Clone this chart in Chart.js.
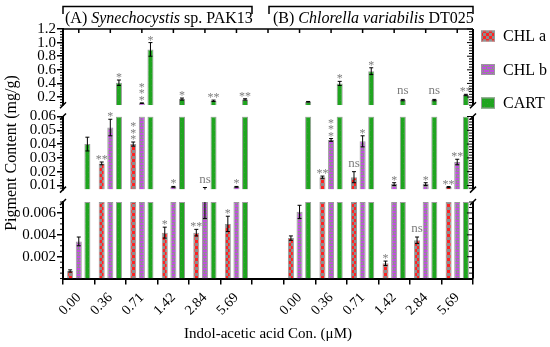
<!DOCTYPE html>
<html>
<head>
<meta charset="utf-8">
<script src="https://cdn.jsdelivr.net/npm/chart.js@4.4.0/dist/chart.umd.min.js"></script>
<style>
  html, body { margin: 0; padding: 0; background: #fff; }
  #chart { display: block; }
</style>
</head>
<body>
<canvas id="chart" width="550" height="347"></canvas>
<script>
// categories: two strains, 6 IAA doses each, empty slot between
const doses = ['0.00', '0.36', '0.71', '1.42', '2.84', '5.69'];
const categories = [...doses, '', ...doses];
const seriesNames = ['CHL a', 'CHL b', 'CART'];

const chlA    = [0.0007, 0.026, 0.040, 0.0042, 0.0042, 0.0050, null, 0.0037, 0.016, 0.016, 0.0014, 0.0035, 0.0088];
const chlAErr = [0.0001, 0.001, 0.0015, 0.0005, 0.0003, 0.0007, null, 0.0002, 0.0008, 0.004, 0.0002, 0.0003, 0.0004];
const chlASig = ['', '**', '***', '*', '**', '*', '', '', '**', 'ns', '*', 'ns', '**'];

const chlB    = [0.0034, 0.052, 0.11, 0.0090, 0.0070, 0.0090, null, 0.0061, 0.043, 0.042, 0.011, 0.011, 0.027];
const chlBErr = [0.0004, 0.006, 0.004, 0.0003, 0.0015, 0.0003, null, 0.0006, 0.001, 0.004, 0.001, 0.001, 0.002];
const chlBSig = ['', '*', '***', '*', 'ns', '*', '', '', '***', '*', '*', '*', '**'];

const cart    = [0.040, 0.41, 0.90, 0.17, 0.145, 0.165, null, 0.13, 0.40, 0.58, 0.155, 0.155, 0.23];
const cartErr = [0.005, 0.04, 0.10, 0.015, 0.01, 0.01, null, 0.005, 0.03, 0.05, 0.01, 0.01, 0.01];
const cartSig = ['', '*', '*', '*', '**', '**', '', '', '*', '*', 'ns', 'ns', '**'];

// broken y axis: top, middle, bottom segments
const panelIds = ['yTop', 'yMid', 'yBot'];
const panelMin = [0.08, 0.007, 0];
const panelMax = [1.2, 0.06, 0.007];
const panelTicks = [
  [0.2, 0.4, 0.6, 0.8, 1.0, 1.2],
  [0.01, 0.02, 0.03, 0.04, 0.05, 0.06],
  [0.002, 0.004, 0.006]
];
const tickDigits = [1, 2, 3];
const minorStep = [0.04, 0.002, 0.0005];

const FONT = '"Liberation Serif", "Times New Roman", serif';
const panelWeight = [76.2, 73.1, 76.6];
const gapWeight = [11.3, 12.4];

function makePattern(kind) {
  const c = document.createElement('canvas');
  const g = c.getContext('2d');
  c.width = 6; c.height = 6;
  if (kind === 0) {
    g.fillStyle = '#ff2222'; g.fillRect(0, 0, 6, 6);
    g.fillStyle = '#8c8c8c'; g.fillRect(0, 0, 3, 3); g.fillRect(3, 3, 3, 3);
  } else if (kind === 1) {
    g.fillStyle = '#c24fe0'; g.fillRect(0, 0, 6, 6);
    g.fillStyle = '#8e8e8e';
    g.fillRect(0, 0, 6, 1); g.fillRect(0, 3, 6, 1);
    g.fillRect(0, 0, 1, 3); g.fillRect(3, 3, 1, 3);
  } else {
    g.fillStyle = '#1fa51f'; g.fillRect(0, 0, 6, 6);
    g.fillStyle = '#3b9a3b'; g.fillRect(1, 1, 1, 1); g.fillRect(4, 4, 1, 1);
  }
  return g.createPattern(c, 'repeat');
}
const fills = [makePattern(0), makePattern(1), makePattern(2)];

const seriesVals = [chlA, chlB, cart];
const seriesErr = [chlAErr, chlBErr, cartErr];
const seriesSig = [chlASig, chlBSig, cartSig];

const datasets = [];
panelIds.forEach((id, p) => {
  seriesVals.forEach((vals, s) => {
    datasets.push({
      label: seriesNames[s],
      yAxisID: id,
      stack: 'st' + s,
      data: vals.map(v => (v == null || v <= panelMin[p]) ? null : [panelMin[p], Math.min(v, panelMax[p])]),
      backgroundColor: fills[s],
      borderColor: '#9a9a9a',
      borderWidth: 1,
      categoryPercentage: 0.82,
      barPercentage: 0.7
    });
  });
});

function panelScale(p, withTitle) {
  return {
    type: 'linear',
    position: 'left',
    stack: 'panels',
    stackWeight: panelWeight[p],
    stacked: false,
    min: panelMin[p],
    max: panelMax[p],
    afterBuildTicks(s) { s.ticks = panelTicks[p].map(v => ({ value: v })); },
    afterFit(s) { s.width = 63; },
    ticks: {
      autoSkip: false,
      color: '#000',
      padding: 1,
      font: { family: FONT, size: 15 },
      callback: v => Number(v).toFixed(tickDigits[p])
    },
    grid: { drawOnChartArea: false, tickLength: 6, color: '#000', lineWidth: 1.5 },
    border: { color: '#000', width: 2 },
    title: {
      display: withTitle,
      text: 'Pigment Content (mg/g)',
      color: '#000',
      font: { family: FONT, size: 16 },
      padding: { top: 2, bottom: 0 }
    }
  };
}

function gapScale(w) {
  return {
    type: 'linear', position: 'left', stack: 'panels', stackWeight: w,
    afterFit(s) { s.width = 63; },
    ticks: { display: false }, grid: { display: false }, border: { display: false }
  };
}

function valueX(chart, s, i) {
  for (let p = 0; p < 3; p++) {
    const el = chart.getDatasetMeta(p * 3 + s).data[i];
    if (el && isFinite(el.x)) return el.x;
  }
  return null;
}

function drawSig(ctx, x, y, txt) {
  ctx.save();
  ctx.fillStyle = '#7d7d7d';
  ctx.textAlign = 'center';
  ctx.textBaseline = 'alphabetic';
  if (txt === 'ns') {
    ctx.font = '13px ' + FONT;
    ctx.fillText('ns', x, y - 2);
  } else if (txt.length === 3) {
    ctx.font = '12px ' + FONT;
    for (let k = 0; k < 3; k++) ctx.fillText('*', x, y + 4 - k * 6.5);
  } else {
    ctx.font = '12px ' + FONT;
    ctx.fillText(txt, x, y + 4);
  }
  ctx.restore();
}

const decor = {
  id: 'decor',
  afterDatasetsDraw(chart) {
    const ctx = chart.ctx;
    ctx.save();
    ctx.strokeStyle = '#000';
    ctx.lineWidth = 1;
    seriesVals.forEach((vals, s) => {
      vals.forEach((v, i) => {
        if (v == null) return;
        const x = valueX(chart, s, i);
        const e = seriesErr[s][i] || 0;
        const lo = v - e, hi = v + e;
        panelIds.forEach((id, p) => {
          const sc = chart.scales[id];
          const a = Math.max(lo, panelMin[p]), b = Math.min(hi, panelMax[p]);
          if (a >= b) return;
          ctx.beginPath();
          ctx.moveTo(x, sc.getPixelForValue(a));
          ctx.lineTo(x, sc.getPixelForValue(b));
          if (hi > panelMin[p] && hi <= panelMax[p]) {
            const yh = sc.getPixelForValue(hi);
            ctx.moveTo(x - 2, yh); ctx.lineTo(x + 2, yh);
          }
          if (lo >= panelMin[p] && lo <= panelMax[p]) {
            const yl = sc.getPixelForValue(lo);
            ctx.moveTo(x - 2, yl); ctx.lineTo(x + 2, yl);
          }
          ctx.stroke();
        });
        const sig = seriesSig[s][i];
        if (!sig) return;
        panelIds.forEach((id, p) => {
          if (hi > panelMin[p] && hi <= panelMax[p]) {
            drawSig(ctx, x, chart.scales[id].getPixelForValue(hi) - 3, sig);
          }
        });
      });
    });
    ctx.restore();
  },
  afterDraw(chart) {
    const ctx = chart.ctx;
    const area = chart.chartArea;
    const xs = chart.scales.x;
    ctx.save();
    ctx.strokeStyle = '#000';

    // top border with category ticks
    ctx.lineWidth = 1.5;
    ctx.beginPath();
    ctx.moveTo(area.left, area.top); ctx.lineTo(area.right, area.top);
    categories.forEach((c, i) => {
      const px = xs.getPixelForValue(i);
      ctx.moveTo(px, area.top); ctx.lineTo(px, area.top + 4);
    });
    ctx.stroke();

    panelIds.forEach((id, p) => {
      const sc = chart.scales[id];
      // right axis line
      ctx.lineWidth = 2;
      ctx.beginPath();
      ctx.moveTo(area.right, sc.top); ctx.lineTo(area.right, sc.bottom);
      ctx.stroke();
      // minor ticks left, all ticks right
      ctx.lineWidth = 1;
      ctx.beginPath();
      const n0 = Math.ceil(panelMin[p] / minorStep[p] - 1e-6);
      const n1 = Math.floor(panelMax[p] / minorStep[p] + 1e-6);
      for (let n = n0; n <= n1; n++) {
        const v = n * minorStep[p];
        const y = sc.getPixelForValue(v);
        const major = panelTicks[p].some(t => Math.abs(t - v) < minorStep[p] / 10);
        if (!major) { ctx.moveTo(area.left - 3, y); ctx.lineTo(area.left, y); }
        ctx.moveTo(area.right - (major ? 6 : 4), y); ctx.lineTo(area.right, y);
      }
      ctx.stroke();
      // break marks
      ctx.lineWidth = 1.5;
      ctx.beginPath();
      const ends = [];
      if (p > 0) ends.push(sc.top);
      if (p < 2) ends.push(sc.bottom);
      ends.forEach(y => {
        [area.left, area.right].forEach(x => {
          ctx.moveTo(x - 3, y + 3); ctx.lineTo(x + 3, y - 3);
        });
      });
      ctx.stroke();
    });

    // strain brackets
    const brackets = [
      { x0: 63, x1: 252, parts: [['(A) ', false], ['Synechocystis', true], [' sp. PAK13', false]], tx: 65 },
      { x0: 269, x1: area.right, parts: [['(B) ', false], ['Chlorella variabilis', true], [' DT025', false]], tx: 273 }
    ];
    ctx.lineWidth = 1.5;
    brackets.forEach(b => {
      ctx.beginPath();
      ctx.moveTo(b.x0, 14); ctx.lineTo(b.x0, 6.5); ctx.lineTo(b.x1, 6.5); ctx.lineTo(b.x1, 14);
      ctx.stroke();
      let tx = b.tx;
      ctx.fillStyle = '#000';
      ctx.textBaseline = 'alphabetic';
      ctx.textAlign = 'left';
      b.parts.forEach(([t, it]) => {
        ctx.font = (it ? 'italic ' : '') + '16px ' + FONT;
        ctx.fillText(t, tx, 23);
        tx += ctx.measureText(t).width;
      });
    });

    // legend
    const legendY = [36, 69.5, 103];
    seriesNames.forEach((name, s) => {
      const y = legendY[s];
      ctx.fillStyle = fills[s];
      ctx.fillRect(481, y - 5.5, 14, 11);
      ctx.strokeStyle = '#9a9a9a';
      ctx.lineWidth = 1;
      ctx.strokeRect(481.5, y - 5, 13, 10);
      ctx.fillStyle = '#000';
      ctx.font = '16px ' + FONT;
      ctx.textBaseline = 'middle';
      ctx.fillText(name, 503, y + 1);
    });
    ctx.restore();
  }
};

new Chart(document.getElementById('chart'), {
  type: 'bar',
  data: { labels: categories, datasets: datasets },
  options: {
    responsive: false,
    animation: false,
    events: [],
    layout: { padding: { left: 0, right: 77, top: 29, bottom: 0 } },
    plugins: { legend: { display: false }, tooltip: { enabled: false } },
    scales: {
      x: {
        type: 'category',
        labels: categories,
        offset: true,
        afterFit(s) { s.height = 68.4; },
        grid: { drawOnChartArea: false, tickLength: 6, color: '#000', lineWidth: 1.5 },
        border: { color: '#000', width: 2 },
        ticks: {
          autoSkip: false, maxRotation: 45, minRotation: 45, padding: 5,
          color: '#000', font: { family: FONT, size: 14 }
        },
        title: {
          display: true,
          text: 'Indol-acetic acid Con. (\u03bcM)',
          color: '#000',
          font: { family: FONT, size: 15 },
          padding: { top: 0, bottom: 4 }
        }
      },
      yBot: panelScale(2, false),
      gap2: gapScale(gapWeight[1]),
      yMid: panelScale(1, true),
      gap1: gapScale(gapWeight[0]),
      yTop: panelScale(0, false)
    }
  },
  plugins: [decor]
});
</script>
</body>
</html>
